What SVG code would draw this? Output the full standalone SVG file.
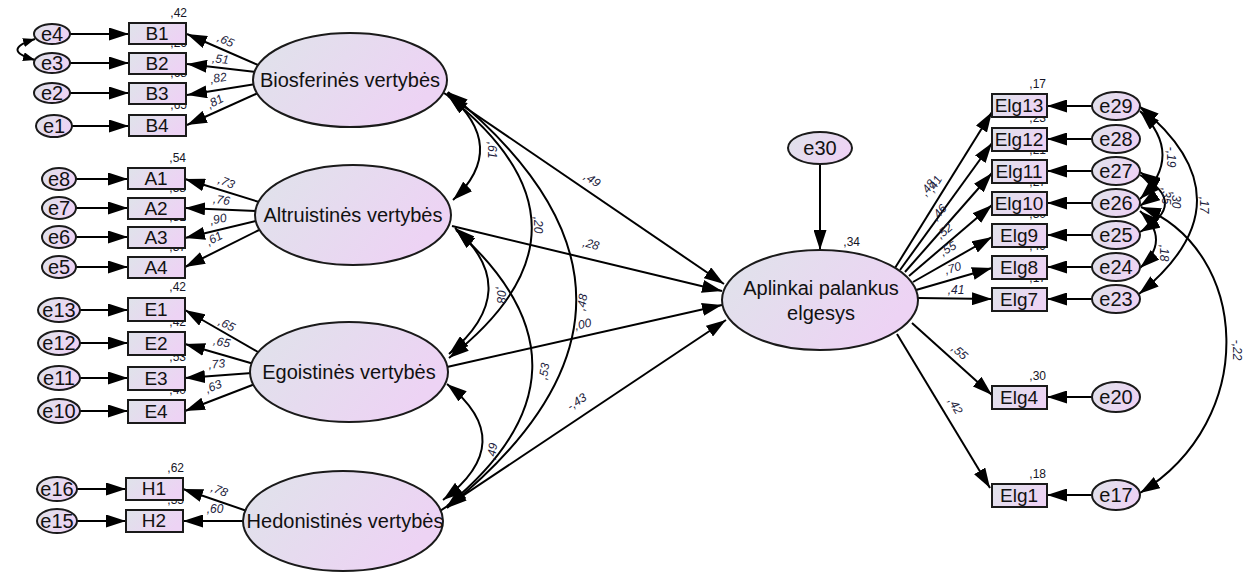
<svg xmlns="http://www.w3.org/2000/svg" width="1248" height="573" viewBox="0 0 1248 573">
<defs>
<linearGradient id="g" x1="0" y1="0" x2="1" y2="0.4">
<stop offset="0" stop-color="#dfe3ea"/>
<stop offset="1" stop-color="#edd3f4"/>
</linearGradient>
<marker id="ah" viewBox="0 0 20 13" refX="20" refY="6.5" markerWidth="20" markerHeight="13" markerUnits="userSpaceOnUse" orient="auto-start-reverse">
<path d="M0,0 L20,6.5 L0,13 z" fill="#000"/>
</marker>
<marker id="as" viewBox="0 0 12 9" refX="12" refY="4.5" markerWidth="12" markerHeight="9" markerUnits="userSpaceOnUse" orient="auto-start-reverse">
<path d="M0,0 L12,4.5 L0,9 z" fill="#000"/>
</marker>
<style>
ellipse, rect { fill: url(#g); stroke: #1a1a1a; stroke-width: 2; }
text { font-family: "Liberation Sans", Arial, sans-serif; fill: #111; }
.lat { font-size: 20px; text-anchor: middle; }
.err { font-size: 20px; text-anchor: middle; }
.obs { font-size: 19px; text-anchor: middle; }
.elg { font-size: 19px; text-anchor: middle; }
.r2 { font-size: 12px; text-anchor: end; fill: #151525; }
.ld { font-size: 12px; text-anchor: middle; fill: #1c1c3c; font-style: italic; }
.c path, .c line { fill: none; stroke: #000; stroke-width: 2; }
.a { marker-end: url(#ah); }
.b { marker-start: url(#ah); marker-end: url(#ah); }
.bs { marker-start: url(#as); marker-end: url(#as); }
</style>
</defs>
<rect x="0" y="0" width="1248" height="573" style="fill:#fff;stroke:none"/>

<g id="connectors" class="c">
<line class="a" x1="70" y1="34" x2="129" y2="34"/>
<line class="a" x1="70" y1="63" x2="129" y2="63"/>
<line class="a" x1="70" y1="93" x2="129" y2="93"/>
<line class="a" x1="72" y1="126" x2="129" y2="126"/>
<path class="bs" d="M35,39 Q0,50 35,60"/>
<line class="a" x1="258" y1="65" x2="187" y2="34"/>
<line class="a" x1="256" y1="72" x2="187" y2="64"/>
<line class="a" x1="256" y1="84" x2="187" y2="95"/>
<line class="a" x1="258" y1="93" x2="187" y2="125"/>
<line class="a" x1="76" y1="179" x2="128" y2="179"/>
<line class="a" x1="76" y1="208" x2="128" y2="208"/>
<line class="a" x1="76" y1="237" x2="128" y2="237"/>
<line class="a" x1="76" y1="267" x2="128" y2="267"/>
<line class="a" x1="259" y1="202" x2="185" y2="179"/>
<line class="a" x1="256" y1="211" x2="185" y2="208"/>
<line class="a" x1="256" y1="221" x2="185" y2="238"/>
<line class="a" x1="259" y1="230" x2="185" y2="267"/>
<line class="a" x1="80" y1="310" x2="128" y2="310"/>
<line class="a" x1="80" y1="343" x2="128" y2="343"/>
<line class="a" x1="80" y1="378" x2="128" y2="378"/>
<line class="a" x1="80" y1="411" x2="128" y2="411"/>
<line class="a" x1="258" y1="352" x2="185" y2="310"/>
<line class="a" x1="254" y1="364" x2="185" y2="344"/>
<line class="a" x1="252" y1="373" x2="185" y2="378"/>
<line class="a" x1="255" y1="384" x2="185" y2="411"/>
<line class="a" x1="77" y1="489" x2="126" y2="489"/>
<line class="a" x1="77" y1="521" x2="126" y2="521"/>
<line class="a" x1="247" y1="511" x2="183" y2="489"/>
<line class="a" x1="246" y1="521" x2="183" y2="521"/>
<path class="b" d="M447,93 Q510,147 453,200"/>
<path class="b" d="M448,96 Q615,228 449,358"/>
<path class="b" d="M448,92 Q705,300 447,508"/>
<path class="b" d="M455,228 Q525,290 449,354"/>
<path class="b" d="M456,230 Q613,370 447,506"/>
<path class="b" d="M447,384 Q520,442 443,500"/>
<line class="a" x1="444" y1="93" x2="724" y2="284"/>
<line class="a" x1="452" y1="226" x2="722" y2="291"/>
<line class="a" x1="447" y1="367" x2="722" y2="305"/>
<line class="a" x1="440" y1="511" x2="726" y2="320"/>
<line class="a" x1="820" y1="164" x2="820" y2="250"/>
<line class="a" x1="895" y1="268" x2="992" y2="112"/>
<line class="a" x1="900" y1="270" x2="992" y2="143"/>
<line class="a" x1="905" y1="272" x2="992" y2="173"/>
<line class="a" x1="909" y1="276" x2="992" y2="205"/>
<line class="a" x1="913" y1="282" x2="992" y2="237"/>
<line class="a" x1="916" y1="290" x2="992" y2="268"/>
<line class="a" x1="918" y1="298" x2="992" y2="299"/>
<line class="a" x1="912" y1="323" x2="992" y2="395"/>
<line class="a" x1="897" y1="334" x2="990" y2="488"/>
<line class="a" x1="1092" y1="106" x2="1047" y2="106"/>
<line class="a" x1="1092" y1="139" x2="1047" y2="139"/>
<line class="a" x1="1092" y1="171" x2="1047" y2="171"/>
<line class="a" x1="1092" y1="203" x2="1047" y2="203"/>
<line class="a" x1="1092" y1="235" x2="1047" y2="235"/>
<line class="a" x1="1092" y1="267" x2="1047" y2="267"/>
<line class="a" x1="1092" y1="299" x2="1047" y2="299"/>
<line class="a" x1="1092" y1="397" x2="1047" y2="397"/>
<line class="a" x1="1092" y1="495" x2="1047" y2="495"/>
<path class="b" d="M1140,111 Q1185,155 1140,199"/>
<path class="b" d="M1139,106 Q1255,200 1139,294"/>
<path class="b" d="M1140,175 Q1190,203 1140,232"/>
<path class="b" d="M1140,172 Q1165,189 1140,206"/>
<path class="b" d="M1140,211 Q1172,240 1140,268"/>
<path class="b" d="M1141,207 C1250,250 1260,420 1140,493"/>
</g>

<g id="labels">
<text class="r2" x="187" y="17">,42</text>
<text class="r2" x="187" y="47">,26</text>
<text class="r2" x="187" y="77">,68</text>
<text class="r2" x="187" y="109">,65</text>
<text class="r2" x="186" y="162">,54</text>
<text class="r2" x="186" y="192">,58</text>
<text class="r2" x="186" y="221">,81</text>
<text class="r2" x="186" y="251">,37</text>
<text class="r2" x="186" y="291">,42</text>
<text class="r2" x="186" y="326">,42</text>
<text class="r2" x="186" y="361">,53</text>
<text class="r2" x="186" y="394">,40</text>
<text class="r2" x="184" y="472">,62</text>
<text class="r2" x="184" y="504">,35</text>
<text class="r2" x="1046" y="88">,17</text>
<text class="r2" x="1046" y="122">,23</text>
<text class="r2" x="1046" y="154">,21</text>
<text class="r2" x="1046" y="186">,27</text>
<text class="r2" x="1046" y="218">,30</text>
<text class="r2" x="1046" y="250">,49</text>
<text class="r2" x="1046" y="282">,17</text>
<text class="r2" x="1046" y="380">,30</text>
<text class="r2" x="1046" y="478">,18</text>
<text class="r2" x="860" y="246">,34</text>

<text class="ld" transform="translate(224,44) rotate(25)">,65</text>
<text class="ld" transform="translate(220,63) rotate(6)">,51</text>
<text class="ld" transform="translate(219,82) rotate(-10)">,82</text>
<text class="ld" transform="translate(217,105) rotate(-28)">,81</text>
<text class="ld" transform="translate(225,186) rotate(22)">,73</text>
<text class="ld" transform="translate(221,204) rotate(8)">,76</text>
<text class="ld" transform="translate(219,223) rotate(-12)">,90</text>
<text class="ld" transform="translate(216,242) rotate(-28)">,61</text>
<text class="ld" transform="translate(225,328) rotate(27)">,65</text>
<text class="ld" transform="translate(221,346) rotate(12)">,65</text>
<text class="ld" transform="translate(217,368) rotate(-5)">,73</text>
<text class="ld" transform="translate(215,390) rotate(-22)">,63</text>
<text class="ld" transform="translate(218,494) rotate(22)">,78</text>
<text class="ld" transform="translate(215,513)">,60</text>

<text class="ld" transform="translate(488,150) rotate(90)">,61</text>
<text class="ld" transform="translate(534,225) rotate(90)">,20</text>
<text class="ld" transform="translate(497,295) rotate(90)">,08</text>
<text class="ld" transform="translate(586,303) rotate(-80)">,48</text>
<text class="ld" transform="translate(548,372) rotate(-80)">,53</text>
<text class="ld" transform="translate(496,452) rotate(-80)">,49</text>

<text class="ld" transform="translate(590,183) rotate(34)">,49</text>
<text class="ld" transform="translate(590,248) rotate(14)">,28</text>
<text class="ld" transform="translate(584,328) rotate(-13)">,00</text>
<text class="ld" transform="translate(579,405) rotate(-34)">-,43</text>

<text class="ld" transform="translate(938,186) rotate(-58)">,41</text>
<text class="ld" transform="translate(931,190) rotate(-54)">,48</text>
<text class="ld" transform="translate(942,215) rotate(-49)">,46</text>
<text class="ld" transform="translate(947,234) rotate(-40)">,52</text>
<text class="ld" transform="translate(950,252) rotate(-30)">,55</text>
<text class="ld" transform="translate(954,272) rotate(-16)">,70</text>
<text class="ld" transform="translate(956,294)">,41</text>
<text class="ld" transform="translate(957,355) rotate(42)">,55</text>
<text class="ld" transform="translate(952,408) rotate(59)">,42</text>

<text class="ld" transform="translate(1167,157) rotate(90)">-,19</text>
<text class="ld" transform="translate(1172,200) rotate(90)">,30</text>
<text class="ld" transform="translate(1162,196) rotate(90)">,35</text>
<text class="ld" transform="translate(1160,253) rotate(90)">,18</text>
<text class="ld" transform="translate(1200,205) rotate(90)">,17</text>
<text class="ld" transform="translate(1233,350) rotate(90)">-,22</text>
</g>

<g id="e4"><ellipse cx="52" cy="34" rx="18" ry="10"/><text class="err" x="52" y="41">e4</text></g>
<g id="e3"><ellipse cx="52" cy="63" rx="18" ry="10"/><text class="err" x="52" y="70">e3</text></g>
<g id="e2"><ellipse cx="52" cy="93" rx="18" ry="10"/><text class="err" x="52" y="100">e2</text></g>
<g id="e1"><ellipse cx="54" cy="126" rx="18" ry="11"/><text class="err" x="54" y="133">e1</text></g>
<g id="B1"><rect x="129" y="23" width="57" height="21"/><text class="obs" x="157" y="40">B1</text></g>
<g id="B2"><rect x="129" y="53" width="57" height="21"/><text class="obs" x="157" y="70">B2</text></g>
<g id="B3"><rect x="129" y="83" width="57" height="21"/><text class="obs" x="157" y="100">B3</text></g>
<g id="B4"><rect x="129" y="115" width="57" height="21"/><text class="obs" x="157" y="132">B4</text></g>

<g id="e8"><ellipse cx="59" cy="179" rx="17" ry="11"/><text class="err" x="59" y="186">e8</text></g>
<g id="e7"><ellipse cx="59" cy="208" rx="17" ry="11"/><text class="err" x="59" y="215">e7</text></g>
<g id="e6"><ellipse cx="59" cy="237" rx="17" ry="11"/><text class="err" x="59" y="244">e6</text></g>
<g id="e5"><ellipse cx="59" cy="267" rx="17" ry="11"/><text class="err" x="59" y="274">e5</text></g>
<g id="A1"><rect x="128" y="168" width="57" height="21"/><text class="obs" x="156" y="185">A1</text></g>
<g id="A2"><rect x="128" y="198" width="57" height="21"/><text class="obs" x="156" y="215">A2</text></g>
<g id="A3"><rect x="128" y="227" width="57" height="21"/><text class="obs" x="156" y="244">A3</text></g>
<g id="A4"><rect x="128" y="257" width="57" height="21"/><text class="obs" x="156" y="274">A4</text></g>

<g id="e13"><ellipse cx="59" cy="310" rx="21" ry="12"/><text class="err" x="59" y="317">e13</text></g>
<g id="e12"><ellipse cx="59" cy="343" rx="21" ry="12"/><text class="err" x="59" y="350">e12</text></g>
<g id="e11"><ellipse cx="59" cy="378" rx="21" ry="12"/><text class="err" x="59" y="385">e11</text></g>
<g id="e10"><ellipse cx="59" cy="411" rx="21" ry="12"/><text class="err" x="59" y="418">e10</text></g>
<g id="E1"><rect x="128" y="298" width="57" height="23"/><text class="obs" x="156" y="316">E1</text></g>
<g id="E2"><rect x="128" y="332" width="57" height="23"/><text class="obs" x="156" y="350">E2</text></g>
<g id="E3"><rect x="128" y="367" width="57" height="23"/><text class="obs" x="156" y="385">E3</text></g>
<g id="E4"><rect x="128" y="400" width="57" height="23"/><text class="obs" x="156" y="418">E4</text></g>

<g id="e16"><ellipse cx="57" cy="489" rx="20" ry="12"/><text class="err" x="57" y="496">e16</text></g>
<g id="e15"><ellipse cx="57" cy="521" rx="20" ry="12"/><text class="err" x="57" y="528">e15</text></g>
<g id="H1"><rect x="126" y="478" width="57" height="22"/><text class="obs" x="154" y="495">H1</text></g>
<g id="H2"><rect x="126" y="510" width="57" height="22"/><text class="obs" x="154" y="527">H2</text></g>

<g id="Biosferines"><ellipse cx="350" cy="80" rx="97" ry="47"/><text class="lat" x="350" y="87">Biosferinės vertybės</text></g>
<g id="Altruistines"><ellipse cx="353" cy="215" rx="98" ry="50"/><text class="lat" x="353" y="222">Altruistinės vertybės</text></g>
<g id="Egoistines"><ellipse cx="349" cy="372" rx="99" ry="50"/><text class="lat" x="349" y="379">Egoistinės vertybės</text></g>
<g id="Hedonistines"><ellipse cx="343" cy="521" rx="100" ry="50"/><text class="lat" x="345" y="528">Hedonistinės vertybės</text></g>

<g id="e30"><ellipse cx="820" cy="148" rx="32" ry="16"/><text class="err" x="820" y="155">e30</text></g>
<g id="Aplinkai"><ellipse cx="820" cy="300" rx="98" ry="50"/><text class="lat" x="821" y="295">Aplinkai palankus</text><text class="lat" x="821" y="320">elgesys</text></g>

<g id="Elg13"><rect x="992" y="94" width="55" height="23"/><text class="elg" x="1019" y="112">Elg13</text></g>
<g id="Elg12"><rect x="992" y="128" width="55" height="23"/><text class="elg" x="1019" y="146">Elg12</text></g>
<g id="Elg11"><rect x="992" y="160" width="55" height="23"/><text class="elg" x="1019" y="178">Elg11</text></g>
<g id="Elg10"><rect x="992" y="192" width="55" height="23"/><text class="elg" x="1019" y="210">Elg10</text></g>
<g id="Elg9"><rect x="992" y="224" width="55" height="23"/><text class="elg" x="1019" y="242">Elg9</text></g>
<g id="Elg8"><rect x="992" y="256" width="55" height="23"/><text class="elg" x="1019" y="274">Elg8</text></g>
<g id="Elg7"><rect x="992" y="288" width="55" height="23"/><text class="elg" x="1019" y="306">Elg7</text></g>
<g id="Elg4"><rect x="992" y="386" width="55" height="23"/><text class="elg" x="1019" y="404">Elg4</text></g>
<g id="Elg1"><rect x="992" y="484" width="55" height="23"/><text class="elg" x="1019" y="502">Elg1</text></g>

<g id="e29"><ellipse cx="1116" cy="106" rx="24" ry="14"/><text class="err" x="1116" y="113">e29</text></g>
<g id="e28"><ellipse cx="1116" cy="139" rx="24" ry="14"/><text class="err" x="1116" y="146">e28</text></g>
<g id="e27"><ellipse cx="1116" cy="171" rx="24" ry="14"/><text class="err" x="1116" y="178">e27</text></g>
<g id="e26"><ellipse cx="1116" cy="203" rx="24" ry="14"/><text class="err" x="1116" y="210">e26</text></g>
<g id="e25"><ellipse cx="1116" cy="235" rx="24" ry="14"/><text class="err" x="1116" y="242">e25</text></g>
<g id="e24"><ellipse cx="1116" cy="267" rx="24" ry="14"/><text class="err" x="1116" y="274">e24</text></g>
<g id="e23"><ellipse cx="1116" cy="299" rx="24" ry="14"/><text class="err" x="1116" y="306">e23</text></g>
<g id="e20"><ellipse cx="1116" cy="397" rx="24" ry="15"/><text class="err" x="1116" y="404">e20</text></g>
<g id="e17"><ellipse cx="1116" cy="495" rx="24" ry="15"/><text class="err" x="1116" y="502">e17</text></g>
</svg>
